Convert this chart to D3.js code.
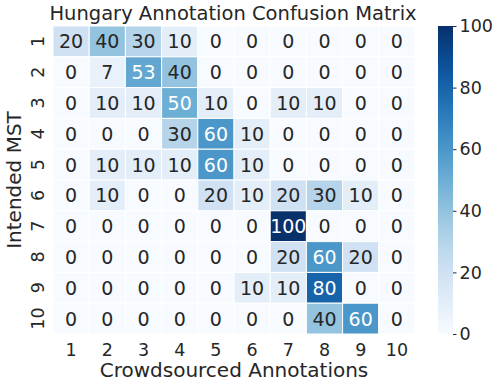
<!DOCTYPE html>
<html>
<head>
<meta charset="utf-8">
<script src="https://cdn.jsdelivr.net/npm/d3@7"></script>
<style>
  body { margin: 0; background: #fff; }
  text { font-family: 'DejaVu Sans', sans-serif; fill: #262626; }
</style>
</head>
<body>
<svg id="chart" width="500" height="387"></svg>
<script>
// confusion matrix values (rows = intended MST, cols = crowdsourced)
const rowLabels = ['1', '2', '3', '4', '5', '6', '7', '8', '9', '10'];
const colLabels = ['1', '2', '3', '4', '5', '6', '7', '8', '9', '10'];
const matrix = [
  [20, 40, 30, 10, 0, 0, 0, 0, 0, 0],
  [0, 7, 53, 40, 0, 0, 0, 0, 0, 0],
  [0, 10, 10, 50, 10, 0, 10, 10, 0, 0],
  [0, 0, 0, 30, 60, 10, 0, 0, 0, 0],
  [0, 10, 10, 10, 60, 10, 0, 0, 0, 0],
  [0, 10, 0, 0, 20, 10, 20, 30, 10, 0],
  [0, 0, 0, 0, 0, 0, 100, 0, 0, 0],
  [0, 0, 0, 0, 0, 0, 20, 60, 20, 0],
  [0, 0, 0, 0, 0, 10, 10, 80, 0, 0],
  [0, 0, 0, 0, 0, 0, 0, 40, 60, 0],
];
const colorTicks = [0, 20, 40, 60, 80, 100];

var svg = d3.select('#chart');
var plotLeft = 53, plotTop = 26, plotRight = 415, plotBottom = 334;

var x = d3.scaleBand().domain(colLabels).range([plotLeft, plotRight]);
var y = d3.scaleBand().domain(rowLabels).range([plotTop, plotBottom]);
var color = d3.scaleSequential(d3.interpolateBlues).domain([0, 100]);

var cells = [];
matrix.forEach(function (row, i) {
  row.forEach(function (v, j) {
    cells.push({ r: rowLabels[i], c: colLabels[j], v: v });
  });
});

// seaborn style: light text on dark cells
function textColor(v) {
  var c = d3.rgb(color(v));
  var lin = [c.r, c.g, c.b].map(function (u) {
    u = u / 255;
    return u <= 0.03928 ? u / 12.92 : Math.pow((u + 0.055) / 1.055, 2.4);
  });
  var lum = 0.2126 * lin[0] + 0.7152 * lin[1] + 0.0722 * lin[2];
  return lum > 0.408 ? '#262626' : '#ffffff';
}

var g = svg.append('g');
g.selectAll('rect')
  .data(cells)
  .enter()
  .append('rect')
  .attr('x', function (d) { return x(d.c); })
  .attr('y', function (d) { return y(d.r); })
  .attr('width', x.bandwidth())
  .attr('height', y.bandwidth())
  .attr('fill', function (d) { return color(d.v); })
  .attr('stroke', '#fff')
  .attr('stroke-width', 1);

g.selectAll('text.val')
  .data(cells)
  .enter()
  .append('text')
  .attr('class', 'val')
  .attr('x', function (d) { return x(d.c) + x.bandwidth() / 2; })
  .attr('y', function (d) { return y(d.r) + y.bandwidth() / 2; })
  .attr('text-anchor', 'middle')
  .attr('dominant-baseline', 'central')
  .style('font-size', '19px')
  .style('fill', function (d) { return textColor(d.v); })
  .text(function (d) { return d.v; });

// x tick labels
svg.selectAll('text.xt')
  .data(colLabels)
  .enter()
  .append('text')
  .attr('class', 'xt')
  .attr('x', function (d) { return x(d) + x.bandwidth() / 2; })
  .attr('y', 356)
  .attr('text-anchor', 'middle')
  .style('font-size', '17.5px')
  .text(function (d) { return d; });

// y tick labels (rotated)
svg.selectAll('text.yt')
  .data(rowLabels)
  .enter()
  .append('text')
  .attr('class', 'yt')
  .attr('transform', function (d) {
    return 'translate(44,' + (y(d) + y.bandwidth() / 2) + ') rotate(-90)';
  })
  .attr('text-anchor', 'middle')
  .style('font-size', '17.5px')
  .text(function (d) { return d; });

svg.append('text')
  .attr('x', 233)
  .attr('y', 20)
  .attr('text-anchor', 'middle')
  .style('font-size', '19.5px')
  .text('Hungary Annotation Confusion Matrix');

svg.append('text')
  .attr('x', (plotLeft + plotRight) / 2)
  .attr('y', 377)
  .attr('text-anchor', 'middle')
  .style('font-size', '20px')
  .text('Crowdsourced Annotations');

svg.append('text')
  .attr('transform', 'translate(21,' + (plotTop + plotBottom) / 2 + ') rotate(-90)')
  .attr('text-anchor', 'middle')
  .style('font-size', '20px')
  .text('Intended MST');

// colorbar
var cbX = 438, cbW = 15;
var cy = d3.scaleLinear().domain([0, 100]).range([plotBottom, plotTop]);
var grad = svg.append('defs').append('linearGradient')
  .attr('id', 'cbgrad')
  .attr('x1', 0).attr('y1', 1).attr('x2', 0).attr('y2', 0);
d3.range(0, 1.0001, 0.05).forEach(function (t) {
  grad.append('stop')
    .attr('offset', t)
    .attr('stop-color', color(t * 100));
});
svg.append('rect')
  .attr('x', cbX)
  .attr('y', plotTop)
  .attr('width', cbW)
  .attr('height', plotBottom - plotTop)
  .attr('fill', 'url(#cbgrad)');

var cbAxis = d3.axisRight(cy).tickValues(colorTicks).tickSize(3.5).tickPadding(3);
var ax = svg.append('g')
  .attr('transform', 'translate(' + (cbX + cbW) + ',0)')
  .call(cbAxis);
ax.select('.domain').remove();
ax.selectAll('line').attr('stroke', '#262626');
ax.selectAll('text')
  .style('font-size', '17.5px')
  .style('font-family', "'DejaVu Sans', sans-serif")
  .attr('fill', '#262626');
</script>
</body>
</html>
